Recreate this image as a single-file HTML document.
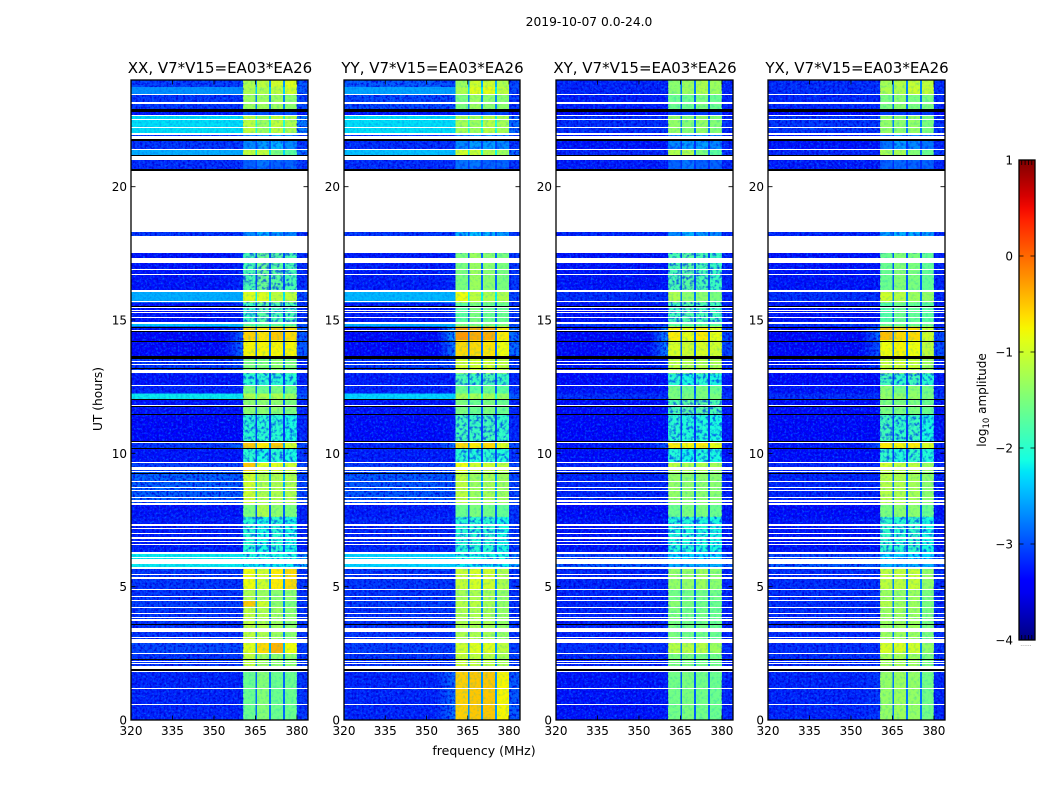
<!DOCTYPE html>
<html lang="en">
<head>
<meta charset="utf-8">
<title>2019-10-07 0.0-24.0</title>
<style>
html,body{margin:0;padding:0;background:#fff;}
svg{display:block;font-family:"DejaVu Sans","Liberation Sans",sans-serif;fill:#000;}
</style>
</head>
<body>
<svg id="fig" xmlns="http://www.w3.org/2000/svg" width="1050" height="800" viewBox="0 0 1050 800">
<defs>
<filter id="speckleLight" x="0" y="0" width="1" height="1" color-interpolation-filters="sRGB">
<feTurbulence type="fractalNoise" baseFrequency="0.46" numOctaves="2" seed="7"/>
<feColorMatrix type="matrix" values="0 0 0 0 0  0 0 0 0 0.4  0 0 0 0 1  0 0 0 3 -1.35"/>
</filter>
<filter id="speckleDark" x="0" y="0" width="1" height="1" color-interpolation-filters="sRGB">
<feTurbulence type="fractalNoise" baseFrequency="0.42" numOctaves="2" seed="23"/>
<feColorMatrix type="matrix" values="0 0 0 0 0  0 0 0 0 0  0 0 0 0 0.85  0 0 0 3 -1.3"/>
</filter>
<filter id="speckleBand" x="0" y="0" width="1" height="1" color-interpolation-filters="sRGB">
<feTurbulence type="fractalNoise" baseFrequency="0.35" numOctaves="2" seed="41"/>
<feColorMatrix type="matrix" values="0 0 0 0 0  0 0 0 0 0.7  0 0 0 0 0.85  0 0 0 1.6 -0.75"/>
</filter>
<filter id="speckleWeak" x="0" y="0" width="1" height="1" color-interpolation-filters="sRGB">
<feTurbulence type="fractalNoise" baseFrequency="0.3" numOctaves="2" seed="11"/>
<feColorMatrix type="matrix" values="0 0 0 0 0  0 0 0 0 0.2  0 0 0 0 0.95  0 0 0 3.4 -1.55"/>
</filter>
<linearGradient id="jetGradient" x1="0" y1="1" x2="0" y2="0"></linearGradient>
</defs>
<text x="589" y="26" font-size="12.3" text-anchor="middle">2019-10-07 0.0-24.0</text>
<text x="102" y="399" font-size="12.2" text-anchor="middle" transform="rotate(-90 102 399)">UT (hours)</text>
<text x="484" y="755" font-size="12.5" text-anchor="middle">frequency (MHz)</text>
<text x="986" y="400" font-size="12" text-anchor="middle" transform="rotate(-90 986 400)">log<tspan font-size="8.5" dy="3">10</tspan><tspan dy="-3"> amplitude</tspan></text>
<g id="panels"></g>
<g id="colorbar"></g>
</svg>
<script>
// ---------- chart data ----------
const panelTitles = ["XX, V7*V15=EA03*EA26","YY, V7*V15=EA03*EA26","XY, V7*V15=EA03*EA26","YX, V7*V15=EA03*EA26"];
const freqTicks = [320,335,350,365,380];
const utTicks = [0,5,10,15,20];
const freqRange = [320,384];
const utRange = [0,24];
const cbarTicks = [-4,-3,-2,-1,0,1];
const cbarRange = [-4,1];
// frequency column edges (MHz): background, shoulder, sub-band 1, notch, sub-band 2, notch, sub-band 3, notch, sub-band 4, right edge
const freqEdges = [320,354,360.5,365,365.6,369.9,370.6,374.9,375.7,380,384];
// top of every time block (hours UT); each block ends at the next entry
const utTops = [24,23.738,23.449,22.9,22.65,21.95,21.42,21.15,18.3,17.51,16.05,15.66,14.86,14.75,14.25,13.6,13,12.56,12.25,12,11.45,10.47,10.2,9.67,9.3,8.06,7.62,6.3,5.86,5.67,4.87,4.5,4.25,2.9,2.5,1.85];
// log10 amplitude per time block: background, shoulder, sub-band 1..4, right edge
const levelsXX = [
[-3.05,-3.05,-1.2,-1.1,-1,-0.9,-2.9],[-2.65,-2.8,-1.2,-1.2,-1.1,-1,-2.9],[-3.1,-3.1,-1.3,-1.3,-1.3,-1.4,-3],[-3.3,-3.3,-3,-3,-3,-3,-3.3],
[-2.25,-2.3,-1.1,-1.3,-1.1,-1.2,-2.7],[-3.1,-3.1,-2.7,-2.6,-2.5,-2.7,-3.1],[-2.5,-2.7,-1.1,-1.1,-1.5,-1.7,-2.8],[-3.15,-3.15,-2.9,-2.8,-2.9,-2.9,-3.1],
[-3.1,-3.1,-2.7,-2.5,-2.6,-2.7,-3.1],[-3.3,-3.2,-1.8,-1.6,-1.7,-1.8,-3.15],[-2.5,-2.6,-0.9,-0.9,-1.1,-1.1,-3],[-3.3,-3.2,-1.9,-1.7,-1.8,-1.8,-3.15],
[-2.4,-2.5,-1.7,-1.7,-1.7,-1.7,-3],[-3.4,-2.9,-0.55,-0.65,-0.5,-0.6,-2.9],[-3.4,-2.85,-0.75,-0.75,-0.75,-0.75,-2.9],[-3.1,-3,-1.5,-1.5,-1.4,-1.5,-3.2],
[-3.3,-3.3,-2,-2,-2,-2,-3.2],[-3.2,-3.2,-1.5,-1.6,-1.5,-1.6,-3.1],[-2.2,-2.3,-1.2,-1.2,-1.2,-1.3,-2.9],[-3.3,-3.3,-1.4,-1.4,-1.4,-1.5,-3.2],
[-3.4,-3.4,-2,-2,-2,-2.1,-3.2],[-3.1,-2.8,-0.5,-0.7,-0.5,-1,-3],[-3.3,-3.3,-2,-2.1,-2,-2.1,-3.1],[-3.05,-3,-0.5,-0.9,-0.9,-1,-3],
[-2.85,-2.9,-1,-1.2,-1.2,-1.2,-3],[-3.3,-3.3,-1.5,-1.2,-1.4,-1.5,-3.2],[-3.25,-3.25,-2,-2.1,-2,-2.1,-3.2],[-2.2,-2.3,-2.1,-2.1,-2.1,-2.1,-2.6],
[-2.2,-2.2,-2.2,-2.2,-2.2,-2.2,-2.4],[-3.1,-3.1,-0.8,-1,-0.7,-0.6,-3.1],[-3.1,-3.1,-1.2,-1.3,-1.4,-1.4,-3.1],[-3.05,-3.05,-0.5,-1,-1.4,-1.5,-3.1],
[-3.1,-3.1,-1.1,-1.2,-1.3,-1.4,-3.1],[-3,-3,-0.9,-0.6,-0.4,-0.8,-3.05],[-3.1,-3.1,-1.1,-1.3,-1.4,-1.4,-3.05],[-3.2,-3.2,-1.6,-1.45,-1.6,-1.6,-3.1]];
const levelsYY = [
[-2.9,-3,-1.3,-1,-1,-1.2,-3],[-2.55,-2.8,-1.2,-0.9,-0.85,-1.1,-3],[-3,-3,-1.5,-1.3,-1.4,-1.4,-3.1],[-3.3,-3.3,-3.1,-3,-3,-3.1,-3.3],
[-2.25,-2.35,-1.25,-1.3,-1.15,-1.25,-2.8],[-3.15,-3.15,-2.7,-2.6,-2.6,-2.7,-3.1],[-2.4,-2.6,-1,-1.05,-1.2,-1.3,-2.8],[-3.15,-3.15,-2.8,-2.8,-2.9,-2.9,-3.1],
[-3.1,-3.1,-2.5,-2.4,-2.5,-2.6,-3.1],[-3.25,-3.2,-1.5,-1.3,-1.4,-1.5,-3.1],[-2.45,-2.55,-0.8,-1.1,-1.2,-1.2,-3],[-3.25,-3.15,-1.7,-1.5,-1.6,-1.6,-3.1],
[-2.5,-2.5,-1.5,-1.5,-1.5,-1.5,-3],[-3.45,-2.5,-0.25,-0.35,-0.35,-0.7,-2.8],[-3.45,-2.75,-0.6,-0.6,-0.65,-0.8,-2.8],[-3.1,-3,-1,-1,-1,-1.1,-3.1],
[-3.25,-3.25,-1.8,-1.9,-1.8,-1.9,-3.2],[-3.2,-3.2,-1.6,-1.7,-1.6,-1.7,-3.1],[-2.3,-2.4,-1.25,-1.25,-1.25,-1.35,-2.9],[-3.3,-3.3,-1.5,-1.6,-1.5,-1.6,-3.2],
[-3.35,-3.3,-1.85,-1.9,-1.85,-1.95,-3.2],[-3.2,-2.8,-0.6,-0.7,-0.6,-0.9,-3],[-3.25,-3.25,-2,-2.05,-2,-2.05,-3.1],[-3.05,-3,-0.8,-1,-1,-1.1,-3],
[-2.9,-2.95,-1.1,-1.3,-1.25,-1.3,-3],[-3.25,-3.25,-1.6,-1.5,-1.55,-1.65,-3.1],[-3.2,-3.2,-2,-2,-2,-2.1,-3.1],[-2.3,-2.4,-2.1,-2.1,-2.1,-2.1,-2.7],
[-2.3,-2.3,-2.2,-2.2,-2.2,-2.2,-2.5],[-3.1,-3.1,-1.05,-0.95,-1,-1.2,-3.1],[-3.1,-3.1,-1.25,-1.2,-1.25,-1.35,-3.1],[-3.05,-3.05,-1.15,-1.1,-1.25,-1.35,-3.1],
[-3.1,-3.1,-1.2,-1.2,-1.25,-1.35,-3.1],[-3.05,-3.05,-1,-0.9,-0.9,-1.1,-3.05],[-3.1,-3.1,-1.05,-1.1,-1.15,-1.25,-3.05],[-3.2,-2.8,-0.55,-0.5,-0.5,-0.75,-2.9]];
const levelsXY = [
[-3.2,-3.2,-1.4,-1.3,-1.2,-1.3,-3.2],[-3.2,-3.2,-1.4,-1.3,-1.2,-1.3,-3.2],[-3.25,-3.25,-1.6,-1.6,-1.5,-1.6,-3.2],[-3.4,-3.4,-3.1,-3.1,-3.1,-3.1,-3.4],
[-3.15,-3.15,-1.35,-1.45,-1.35,-1.45,-3.15],[-3.3,-3.3,-2.7,-2.6,-2.6,-2.7,-3.2],[-3.2,-3.2,-1.2,-1.2,-1.5,-1.7,-3.1],[-3.25,-3.25,-2.9,-2.8,-2.9,-2.9,-3.2],
[-3.2,-3.2,-2.7,-2.5,-2.6,-2.7,-3.2],[-3.3,-3.3,-1.8,-1.7,-1.8,-1.9,-3.2],[-3.15,-3.15,-1.2,-1.4,-1.4,-1.5,-3.2],[-3.3,-3.3,-1.85,-1.75,-1.8,-1.85,-3.2],
[-3.1,-3.1,-1.7,-1.7,-1.7,-1.7,-3.2],[-3.4,-2.65,-0.7,-0.85,-0.7,-0.85,-3],[-3.4,-2.7,-0.95,-1,-0.95,-1,-3],[-3.3,-3.2,-1.1,-1.2,-1.2,-1.2,-3.2],
[-3.35,-3.35,-2,-2.1,-2,-2.1,-3.3],[-3.3,-3.3,-1.5,-1.6,-1.5,-1.6,-3.2],[-3.15,-3.15,-1.5,-1.5,-1.5,-1.5,-3.1],[-3.35,-3.35,-1.8,-1.7,-1.7,-1.8,-3.3],
[-3.4,-3.4,-2,-2.05,-2.05,-2.1,-3.3],[-3.3,-2.9,-0.7,-0.75,-0.7,-0.85,-3.2],[-3.35,-3.35,-2.05,-2.15,-2.05,-2.1,-3.3],[-3.2,-3.2,-1.1,-1.2,-1.2,-1.25,-3.2],
[-3.2,-3.2,-1.35,-1.4,-1.4,-1.4,-3.2],[-3.35,-3.35,-1.6,-1.5,-1.5,-1.6,-3.3],[-3.3,-3.3,-2.05,-2.05,-2.05,-2.1,-3.25],[-3,-3,-2.3,-2.3,-2.3,-2.3,-3],
[-2.9,-2.9,-2.5,-2.5,-2.5,-2.5,-2.9],[-3.2,-3.2,-1.35,-1.35,-1.3,-1.4,-3.2],[-3.2,-3.2,-1.55,-1.55,-1.55,-1.55,-3.2],[-3.2,-3.2,-1.4,-1.5,-1.55,-1.6,-3.2],
[-3.2,-3.2,-1.5,-1.55,-1.55,-1.6,-3.2],[-3.15,-3.15,-1.15,-1.15,-1.15,-1.3,-3.15],[-3.2,-3.2,-1.5,-1.5,-1.55,-1.55,-3.2],[-3.3,-3.25,-1.55,-1.5,-1.55,-1.6,-3.2]];
const levelsYX = [
[-3.15,-3.15,-1.25,-1.15,-1.05,-1.1,-3.15],[-3.15,-3.15,-1.2,-1.2,-1,-1.05,-3.15],[-3.2,-3.2,-1.5,-1.4,-1.5,-1.5,-3.15],[-3.4,-3.4,-3.1,-3.1,-3.1,-3.1,-3.4],
[-3.1,-3.1,-1.35,-1.4,-1.35,-1.5,-3.1],[-3.3,-3.3,-2.8,-2.6,-2.7,-2.8,-3.2],[-3.2,-3.2,-1.25,-1.25,-1.45,-1.6,-3.1],[-3.25,-3.25,-2.9,-2.85,-2.9,-2.9,-3.2],
[-3.2,-3.2,-2.6,-2.5,-2.5,-2.6,-3.2],[-3.3,-3.3,-1.6,-1.45,-1.5,-1.65,-3.2],[-3.15,-3.15,-1,-1.15,-1.3,-1.35,-3.2],[-3.3,-3.3,-1.75,-1.6,-1.65,-1.7,-3.2],
[-3.1,-3.1,-1.6,-1.6,-1.6,-1.6,-3.2],[-3.4,-2.8,-0.45,-0.6,-0.6,-1,-3],[-3.4,-2.95,-0.8,-0.75,-0.8,-1.1,-3],[-3.3,-3.2,-1.05,-1,-1.05,-1.3,-3.2],
[-3.35,-3.35,-1.85,-1.95,-1.85,-2,-3.3],[-3.3,-3.3,-1.4,-1.55,-1.4,-1.55,-3.2],[-3.15,-3.15,-1.35,-1.35,-1.35,-1.5,-3.1],[-3.35,-3.35,-1.5,-1.5,-1.5,-1.6,-3.3],
[-3.4,-3.4,-1.85,-1.95,-1.9,-2.1,-3.3],[-3.3,-3,-0.7,-0.75,-0.7,-0.95,-3.2],[-3.35,-3.35,-1.95,-2.05,-1.95,-2.05,-3.3],[-3.2,-3.2,-1,-1.1,-1.1,-1.3,-3.2],
[-3.2,-3.2,-1.15,-1.2,-1.25,-1.4,-3.2],[-3.35,-3.35,-1.5,-1.4,-1.4,-1.6,-3.3],[-3.3,-3.3,-1.95,-2,-1.95,-2.1,-3.25],[-3,-3,-2.3,-2.3,-2.3,-2.3,-3],
[-2.9,-2.9,-2.5,-2.5,-2.5,-2.5,-2.9],[-3.15,-3.15,-1.1,-1.1,-1.05,-1.35,-3.15],[-3.15,-3.15,-1.3,-1.35,-1.3,-1.5,-3.15],[-3.15,-3.15,-1.15,-1.3,-1.3,-1.5,-3.15],
[-3.15,-3.15,-1.3,-1.3,-1.3,-1.5,-3.15],[-3.15,-3.15,-0.95,-0.95,-1,-1.35,-3.15],[-3.15,-3.15,-1.25,-1.25,-1.3,-1.5,-3.15],[-3.2,-3.1,-1.35,-1.3,-1.35,-1.55,-3.2]];
const panelLevels = [levelsXX,levelsYY,levelsXY,levelsYX];
// flagged (blank) time intervals, hours UT [top, bottom]
const whiteFlags = [[23.486,23.449],[23.164,23.111],[22.699,22.65],[22.556,22.538],[22.226,22.189],[22.001,21.949],[21.9,21.776],[21.424,21.386],[21.15,21],[20.599,18.3],[18.15,17.513],[17.325,17.175],[17.164,17.138],[16.913,16.875],[16.725,16.688],[16.136,16.05],[15.713,15.664],[15.499,15.439],[15.386,15.349],[15.3,15.263],[15.124,15.075],[14.914,14.861],[14.636,14.599],[13.474,13.425],[13.35,13.301],[13.114,13.013],[12.563,12.525],[11.813,11.775],[10.414,10.376],[9.675,9.638],[9.499,9.375],[9.338,9.3],[8.963,8.936],[8.726,8.7],[8.625,8.588],[8.351,8.325],[8.239,8.186],[8.138,8.063],[7.35,7.286],[7.2,7.151],[7.001,6.975],[6.874,6.776],[6.713,6.675],[6.6,6.574],[6.3,6.225],[6.124,6.075],[6.026,5.861],[5.749,5.674],[5.475,5.438],[5.344,5.306],[4.913,4.875],[4.65,4.613],[4.511,4.474],[4.249,4.226],[4.001,3.964],[3.874,3.825],[3.776,3.713],[3.461,3.424],[3.413,3.311],[3.113,3.075],[3.038,2.899],[2.513,2.486],[2.224,2.186],[2.138,2.089],[2.036,2.014],[2,1.913],[1.838,1.8],[1.189,1.163],[0.589,0.563]];
// fully dark time intervals, hours UT [top, bottom]
const blackFlags = [[22.901,22.789],[21.776,21.701],[21.199,21.15],[20.651,20.599],[15.525,15.499],[14.749,14.7],[14.588,14.561],[14.213,14.186],[13.639,13.549],[13.189,13.163],[12.026,12],[11.764,11.738],[11.475,11.449],[10.474,10.414],[10.211,10.174],[9.274,9.251],[3.611,3.574],[2.276,2.25],[1.913,1.838]];

// ---------- layout ----------
const SVGNS = "http://www.w3.org/2000/svg";
const axesLeft = [131,344,556,768];
const axesWidth = [177,176,177,177];
const axesTop = 80, axesBottom = 720;
const cbarLeft = 1019, cbarRight = 1035, cbarTop = 160, cbarBottom = 640;
const notchWeight = 0.2;
const shoulderSteps = 5;
const brightBgLevel = -2.8;
const weakBandLevel = -1.7;

function mk(parent, tag, attrs) {
  const el = document.createElementNS(SVGNS, tag);
  for (const k in attrs) el.setAttribute(k, attrs[k]);
  parent.appendChild(el);
  return el;
}
function yOf(ut) { return axesBottom - (ut - utRange[0]) / (utRange[1] - utRange[0]) * (axesBottom - axesTop); }
function xOf(p, f) { return axesLeft[p] + (f - freqRange[0]) / (freqRange[1] - freqRange[0]) * axesWidth[p]; }
function flagBox(p, f) {
  const y0 = Math.round(yOf(f[0]));
  const y1 = Math.max(y0 + 1, Math.round(yOf(f[1])));
  return {x: axesLeft[p], y: y0, width: axesWidth[p], height: y1 - y0};
}
function ramp(t, knots) {
  if (t <= knots[0][0]) return knots[0][1];
  for (let i = 1; i < knots.length; i++) {
    if (t <= knots[i][0]) {
      const a = knots[i-1], b = knots[i];
      return a[1] + (b[1]-a[1]) * (t-a[0]) / (b[0]-a[0]);
    }
  }
  return knots[knots.length-1][1];
}
const jetR = [[0,0],[0.35,0],[0.66,1],[0.89,1],[1,0.5]];
const jetG = [[0,0],[0.125,0],[0.375,1],[0.64,1],[0.91,0],[1,0]];
const jetB = [[0,0.5],[0.11,1],[0.34,1],[0.65,0],[1,0]];
function colorOf(level) {
  const t = Math.max(0, Math.min(1, (level - cbarRange[0]) / (cbarRange[1] - cbarRange[0])));
  const c = v => Math.round(255 * ramp(t, v));
  return "rgb(" + c(jetR) + "," + c(jetG) + "," + c(jetB) + ")";
}
function columnLevel(row, col) {
  if (col === 0) return row[0];
  if (col === 1) return row[1];
  if (col === 2) return row[2];
  if (col === 4) return row[3];
  if (col === 6) return row[4];
  if (col === 8) return row[5];
  if (col === 9) return row[6];
  const nb = col === 3 ? row[2] : col === 5 ? row[3] : row[4];
  return notchWeight * nb + (1 - notchWeight) * row[0];
}

// ---------- panels ----------
const panelsG = document.getElementById("panels");
panelTitles.forEach(function (title, p) {
  const g = mk(panelsG, "g", {});
  
  
  const L = axesLeft[p], R = L + axesWidth[p];
  const clipId = "clip" + p;
  const defs = mk(g, "clipPath", {id: clipId});
  mk(defs, "rect", {x: L, y: axesTop, width: axesWidth[p], height: axesBottom - axesTop});
  const img = mk(g, "g", {"clip-path": "url(#" + clipId + ")", "shape-rendering": "crispEdges"});
  
  
  const levels = panelLevels[p];
  utTops.forEach(function (top, i) {
    const bottom = i + 1 < utTops.length ? utTops[i + 1] : utRange[0];
    for (let c = 0; c < freqEdges.length - 1; c++) {
      const x0 = xOf(p, freqEdges[c]), x1 = xOf(p, freqEdges[c + 1]);
      if (c === 1) {
        // the shoulder fades in from the background towards the band edge
        const bgL = levels[i][0], shL = levels[i][1];
        for (let s = 0; s < shoulderSteps; s++) {
          const w = (x1 - x0) / shoulderSteps;
          const cell = mk(img, "rect", {x: x0 + s * w, y: yOf(top), width: w + 0.4, height: yOf(bottom) - yOf(top) + 0.4, fill: colorOf(bgL + (shL - bgL) * (s + 1) / shoulderSteps)});
          
          
        }
      } else {
        const cell = mk(img, "rect", {x: x0, y: yOf(top), width: x1 - x0 + 0.4, height: yOf(bottom) - yOf(top) + 0.4, fill: colorOf(columnLevel(levels[i], c))});
        
        
      }
    }
  });
  // receiver-noise texture on the background and on the sub-bands
  const bgEnd = xOf(p, freqEdges[2]), bandEnd = xOf(p, freqEdges[9]);
  [[L, bgEnd - L], [bandEnd, R - bandEnd]].forEach(function (s) {
    const t1 = mk(img, "rect", {x: s[0], y: axesTop, width: s[1], height: axesBottom - axesTop, fill: "#000", filter: "url(#speckleLight)", opacity: 0.8});
    
    
    const t2 = mk(img, "rect", {x: s[0], y: axesTop, width: s[1], height: axesBottom - axesTop, fill: "#000", filter: "url(#speckleDark)", opacity: 0.9});
    
    
  });
  const t3 = mk(img, "rect", {x: bgEnd, y: axesTop, width: bandEnd - bgEnd, height: axesBottom - axesTop, fill: "#000", filter: "url(#speckleBand)", opacity: 0.5});
  
  
  utTops.forEach(function (top, i) {
    const bottom = i + 1 < utTops.length ? utTops[i + 1] : utRange[0];
    const y0 = yOf(top), h = yOf(bottom) - y0;
    // bright-background rows are much smoother than the dim ones
    if (levels[i][0] > brightBgLevel) {
      const smooth = mk(img, "rect", {x: L, y: y0, width: bgEnd - L, height: h, fill: colorOf(levels[i][0]), opacity: 0.8});
      
      
    }
    // weak sub-band rows are visibly speckled
    const bandMean = (levels[i][2] + levels[i][3] + levels[i][4] + levels[i][5]) / 4;
    if (bandMean < weakBandLevel && h > 4) {
      const weak = mk(img, "rect", {x: bgEnd, y: y0, width: bandEnd - bgEnd, height: h, fill: "#000", filter: "url(#speckleWeak)", opacity: 0.75});
      
      
    }
  });
  // flagged rows
  blackFlags.forEach(function (f) {
    const r = mk(img, "rect", Object.assign(flagBox(p, f), {fill: "#000"}));
    
    
  });
  whiteFlags.forEach(function (f) {
    const r = mk(img, "rect", Object.assign(flagBox(p, f), {fill: "#fff"}));
    
    
  });
  // frame
  const frame = mk(g, "rect", {x: L, y: axesTop, width: axesWidth[p], height: axesBottom - axesTop, fill: "none", stroke: "#000", "stroke-width": 1.3});
  
  
  // ticks and tick labels
  freqTicks.forEach(function (f) {
    const x = xOf(p, f);
    const t = mk(g, "path", {d: "M" + x + " " + axesBottom + "v-4.5M" + x + " " + axesTop + "v4.5", stroke: "#000", "stroke-width": 0.8, fill: "none"});
    
    
    const lab = mk(g, "text", {x: x, y: axesBottom + 15, "font-size": 12, "text-anchor": "middle"});
    lab.textContent = f;
    
    
  });
  utTicks.forEach(function (u) {
    const y = yOf(u);
    const t = mk(g, "path", {d: "M" + L + " " + y + "h4.5M" + R + " " + y + "h-4.5", stroke: "#000", "stroke-width": 0.8, fill: "none"});
    
    
    const lab = mk(g, "text", {x: L - 4, y: y + 4.5, "font-size": 12, "text-anchor": "end"});
    lab.textContent = u;
    
    
  });
  const ttl = mk(g, "text", {x: (L + R) / 2 + 0.5, y: axesTop - 7, "font-size": 15, "text-anchor": "middle"});
  ttl.textContent = title;
  
  
});

// ---------- colorbar ----------
const grad = document.getElementById("jetGradient");
for (let s = 0; s <= 40; s++) {
  const frac = s / 40;
  mk(grad, "stop", {offset: frac, "stop-color": colorOf(cbarRange[0] + frac * (cbarRange[1] - cbarRange[0]))});
}
const cb = document.getElementById("colorbar");
function cbY(v) { return cbarBottom - (v - cbarRange[0]) / (cbarRange[1] - cbarRange[0]) * (cbarBottom - cbarTop); }
const cbBody = mk(cb, "rect", {x: cbarLeft, y: cbarTop, width: cbarRight - cbarLeft, height: cbarBottom - cbarTop, fill: "url(#jetGradient)", stroke: "#000", "stroke-width": 1.3});


cbarTicks.forEach(function (v) {
  const y = cbY(v);
  const t = mk(cb, "path", {d: "M" + cbarLeft + " " + y + "h4.5M" + cbarRight + " " + y + "h-4.5", stroke: "#000", "stroke-width": 0.8, fill: "none"});
  
  
  const lab = mk(cb, "text", {x: cbarLeft - 6, y: y + 4.5, "font-size": 12, "text-anchor": "end"});
  lab.textContent = v < 0 ? "\u2212" + Math.abs(v) : String(v);
  
  
});
const minorFractions = [0.17, 0.38, 0.59, 0.8];
minorFractions.forEach(function (fr) {
  const x = cbarLeft + fr * (cbarRight - cbarLeft);
  const m = mk(cb, "path", {d: "M" + x + " " + cbarTop + "v5M" + x + " " + cbarBottom + "v-5", stroke: "#000", "stroke-width": 0.8, fill: "none"});
  
  
});
const dots = mk(cb, "text", {x: (cbarLeft + cbarRight) / 2 - 1, y: cbarBottom + 6, "font-size": 6, "text-anchor": "middle", fill: "#777"});
dots.textContent = "......";


</script>
</body>
</html>
